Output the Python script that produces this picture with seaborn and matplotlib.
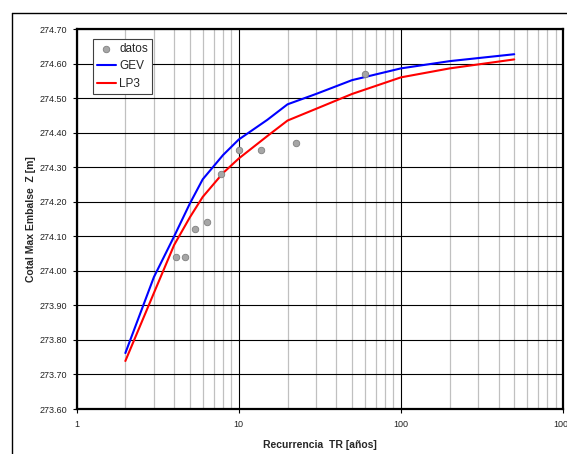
import numpy as np
import pandas as pd
import matplotlib
matplotlib.use("Agg")
import matplotlib.pyplot as plt
import seaborn as sns
from matplotlib.ticker import FixedLocator, LogLocator, NullFormatter, MultipleLocator, FormatStrFormatter
from matplotlib.lines import Line2D

# --- data ---
datos_tr = [4.12, 4.69, 5.40, 6.37, 7.74, 10.0, 13.7, 22.4, 60.0]
datos_z = [274.04, 274.04, 274.12, 274.14, 274.28, 274.35, 274.35, 274.37, 274.57]

curve_tr = [2, 3, 4, 5, 6, 8, 10, 15, 20, 30, 50, 100, 200, 500]
gev_z = [273.762, 273.982, 274.100, 274.195, 274.265, 274.335, 274.380, 274.437,
         274.482, 274.512, 274.552, 274.586, 274.607, 274.627]
lp3_z = [273.739, 273.936, 274.075, 274.155, 274.214, 274.283, 274.325, 274.390,
         274.435, 274.469, 274.512, 274.560, 274.586, 274.612]

x_ticks = [1, 10, 100, 1000]
x_tick_labels = ["1", "10", "100", "1000"]

df_datos = pd.DataFrame({"TR": datos_tr, "Z": datos_z})
df_curves = pd.DataFrame({
    "TR": curve_tr * 2,
    "Z": gev_z + lp3_z,
    "Serie": ["GEV"] * len(curve_tr) + ["LP3"] * len(curve_tr),
})

# --- styling ---
sns.set_style("white")
plt.rcParams['font.family'] = ['Liberation Sans', 'DejaVu Sans']

fig = plt.figure(figsize=(5.67, 4.54), dpi=100)
ax = fig.add_axes([0.135, 0.0991, 0.858, 0.837])

sns.scatterplot(data=df_datos, x="TR", y="Z", ax=ax, color="#a6a6a6",
                edgecolor="#808080", s=22, linewidth=0.6, label="datos", zorder=4)
sns.lineplot(data=df_curves, x="TR", y="Z", hue="Serie", ax=ax,
             palette={"GEV": "#0000ff", "LP3": "#ff0000"}, linewidth=1.5,
             estimator=None, sort=False, zorder=3)

ax.set_xscale("log")
ax.set_xlim(1, 1000)
ax.set_ylim(273.6, 274.7)

ax.xaxis.set_major_locator(FixedLocator(x_ticks))
ax.set_xticklabels(x_tick_labels)
ax.xaxis.set_minor_locator(LogLocator(base=10, subs=np.arange(2, 10)))
ax.xaxis.set_minor_formatter(NullFormatter())
ax.yaxis.set_major_locator(MultipleLocator(0.1))
ax.yaxis.set_major_formatter(FormatStrFormatter("%.2f"))

ax.grid(which="major", axis="both", color="black", linewidth=0.8, zorder=0)
ax.grid(which="minor", axis="x", color="#c0c0c0", linewidth=0.9, zorder=0)
ax.set_axisbelow(True)

ax.tick_params(axis="both", which="major", labelsize=6.5, labelcolor="#222222",
               direction="out", length=3, width=0.8, color="black",
               bottom=True, left=True)
ax.tick_params(axis="x", which="minor", bottom=False)
ax.tick_params(axis="x", pad=5)

for sp in ax.spines.values():
    sp.set_color("black")
    sp.set_linewidth(1.6)

ax.set_xlabel("Recurrencia  TR [años]", fontsize=7.5, fontweight="bold", labelpad=8)
ax.set_ylabel("Cotal Max Embalse  Z [m]", fontsize=7.5, fontweight="bold", labelpad=3)

handles, labels = ax.get_legend_handles_labels()
leg = ax.legend(handles, labels, loc="upper left", bbox_to_anchor=(0.033, 0.974),
                borderaxespad=0, fontsize=8.5, frameon=True, fancybox=False,
                edgecolor="#404040", framealpha=1, handlelength=1.6,
                handletextpad=0.3, borderpad=0.35, labelspacing=0.45)
leg.get_frame().set_linewidth(0.8)

# outer chart-area frame
fig.add_artist(Line2D([12 / 567, 12 / 567], [0, 1 - 13 / 454], color="black",
                      linewidth=1.0, transform=fig.transFigure))
fig.add_artist(Line2D([12 / 567, 1], [1 - 13 / 454, 1 - 13 / 454], color="black",
                      linewidth=1.0, transform=fig.transFigure))

fig.savefig("out.png", dpi=100)
